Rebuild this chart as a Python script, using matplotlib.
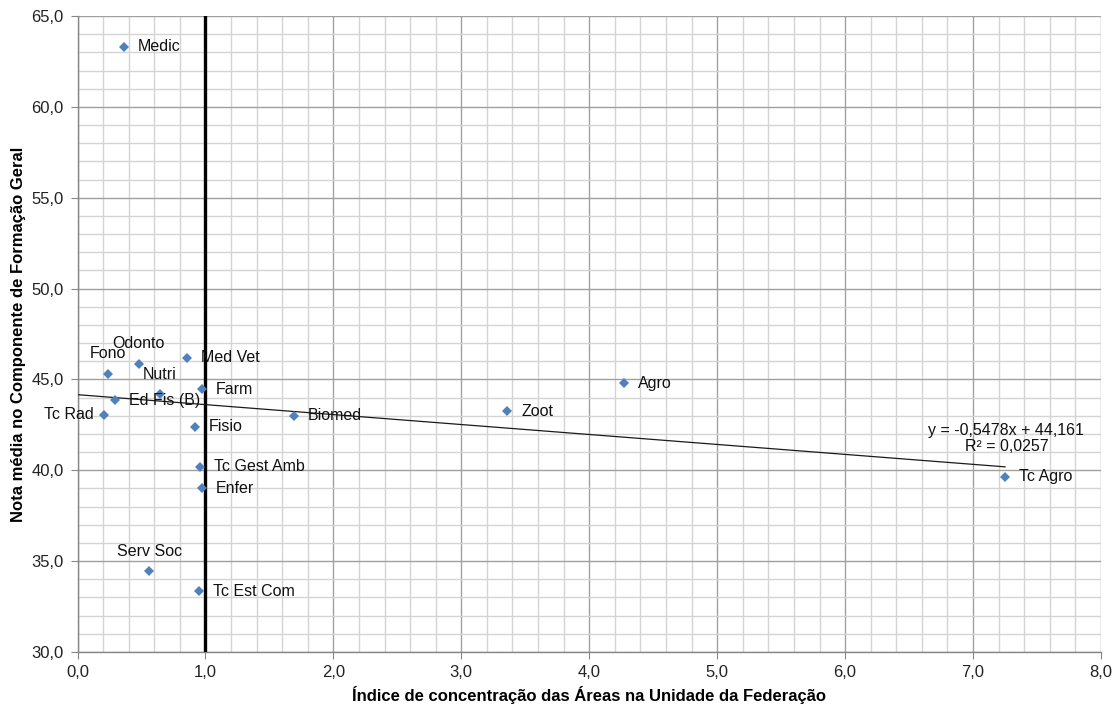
import matplotlib
matplotlib.use("Agg")
import matplotlib.pyplot as plt
from matplotlib.ticker import MultipleLocator, FuncFormatter
import numpy as np

plt.rcParams['font.family'] = ['Liberation Sans', 'DejaVu Sans']

# ---- data ----
areas = ["Medic", "Odonto", "Fono", "Nutri", "Med Vet", "Farm", "Ed Fis (B)", "Tc Rad",
         "Biomed", "Fisio", "Tc Gest Amb", "Enfer", "Serv Soc", "Tc Est Com",
         "Zoot", "Agro", "Tc Agro"]
indice = [0.36, 0.48, 0.24, 0.645, 0.855, 0.97, 0.29, 0.21,
          1.69, 0.915, 0.96, 0.97, 0.56, 0.95,
          3.36, 4.27, 7.25]
nota = [63.3, 45.85, 45.3, 44.2, 46.2, 44.45, 43.85, 43.05,
        43.0, 42.4, 40.2, 39.0, 34.45, 33.35,
        43.25, 44.8, 39.65]
slope = -0.5478
intercept = 44.161
r2 = 0.0257
ref_x = 1.0

# label placement (pixel offsets, alignment) -- style only
label_pos = {
    "Odonto": (0, 20, 'center'),
    "Fono": (0, 20, 'center'),
    "Nutri": (0, 19, 'center'),
    "Serv Soc": (0, 20, 'center'),
    "Tc Rad": (-11, 0, 'right'),
}

fig = plt.figure(figsize=(11.13, 7.08), dpi=100)
ax = fig.add_axes([77.5/1113, 1-652/708, (1101-77.5)/1113, (652-16)/708])

ax.set_xlim(0, 8)
ax.set_ylim(30, 65)
ax.xaxis.set_major_locator(MultipleLocator(1.0))
ax.xaxis.set_minor_locator(MultipleLocator(0.2))
ax.yaxis.set_major_locator(MultipleLocator(5.0))
ax.yaxis.set_minor_locator(MultipleLocator(1.0))
fmt = FuncFormatter(lambda v, p: f"{v:.1f}".replace(".", ","))
ax.xaxis.set_major_formatter(fmt)
ax.yaxis.set_major_formatter(fmt)

ax.grid(which='minor', color='#d4d4d4', linewidth=1.0)
ax.grid(which='major', color='#a0a0a0', linewidth=1.0)
ax.set_axisbelow(True)
for s in ['top', 'right']:
    ax.spines[s].set_visible(False)
for s in ['left', 'bottom']:
    ax.spines[s].set_color('#868686')
    ax.spines[s].set_linewidth(1.0)
ax.tick_params(which='major', length=5, color='#868686', labelsize=12,
               labelcolor='#222222', direction='out')
ax.tick_params(which='minor', length=0)
ax.tick_params(axis='x', pad=4.5)
ax.tick_params(axis='y', pad=5)

# reference line
ax.axvline(ref_x, color='black', linewidth=2.4, zorder=3)

# trend line
xs = np.array([0, max(indice)])
ax.plot(xs, slope*xs + intercept, color='#1a1a1a', linewidth=0.9, zorder=4)

ax.plot(indice, nota, linestyle='none', marker='D', markersize=4.6,
        color='#4f81bd', markeredgewidth=0, zorder=5, clip_on=False)

for name, x, y in zip(areas, indice, nota):
    dx, dy, ha = label_pos.get(name, (14, 0, 'left'))
    ax.annotate(name, (x, y), xytext=(dx*0.72, dy*0.72), textcoords='offset points',
                ha=ha, va='center', fontsize=11.5, color='#111111', zorder=6)

eq = f"y = {slope:.4f}x + {intercept:.3f}".replace(".", ",")
r2t = f"R² = {r2:.4f}".replace(".", ",")
ax.text(7.26, 41.75, eq + "\n" + r2t, ha='center', va='center', fontsize=11.5,
        color='#111111', linespacing=1.15, zorder=6)

ax.set_xlabel("Índice de concentração das Áreas na Unidade da Federação",
              fontsize=12, fontweight='bold', labelpad=4)
ax.set_ylabel("Nota média no Componente de Formação Geral",
              fontsize=12, fontweight='bold', labelpad=4)

fig.savefig("out.png", dpi=100)
